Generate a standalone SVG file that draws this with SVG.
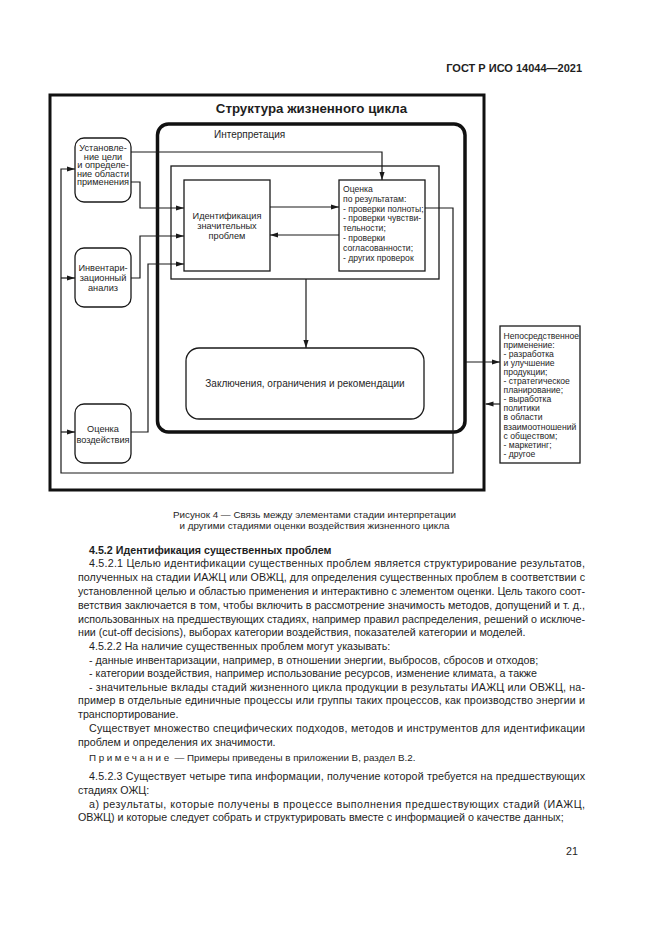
<svg xmlns="http://www.w3.org/2000/svg" width="661" height="935" viewBox="0 0 661 935">
<style>
.f{font-family:"Liberation Sans",Arial,sans-serif;fill:#1e1e1e}
.d{font-size:8.6px}
.l{font-size:9.2px}
.b{font-size:10.7px}
.ln{fill:none;stroke:#1a1a1a;stroke-width:1.2}
.box{fill:#fff;stroke:#1a1a1a;stroke-width:1.3}
</style>
<defs>
<marker id="ar" markerUnits="userSpaceOnUse" markerWidth="8" markerHeight="6" refX="8" refY="3" orient="auto">
<path d="M0,0.4 L8,3 L0,5.6 z" fill="#1a1a1a"/>
</marker>
</defs>
<rect width="661" height="935" fill="#fff"/>
<text class="f" x="582" y="72" font-size="11" font-weight="bold" text-anchor="end">ГОСТ Р ИСО 14044—2021</text>

<g id="frame">
<rect x="50" y="95" width="434" height="395" fill="none" stroke="#111" stroke-width="3"/>
<text class="f" x="311.5" y="113" font-size="13.3" font-weight="bold" text-anchor="middle">Структура жизненного цикла</text>
</g>
<g id="interp">
<rect x="157.5" y="124" width="307.5" height="308" rx="11" fill="none" stroke="#111" stroke-width="3.5"/>
<text class="f" x="214" y="138" font-size="10">Интерпретация</text>
</g>
<g id="inner">
<rect x="171" y="166" width="268" height="113" fill="none" stroke="#1a1a1a" stroke-width="1.3"/>
</g>
<g id="connectors">
<path class="ln" d="M131,152 H382 V180" marker-end="url(#ar)"/>
<path class="ln" d="M131,182 H140 V208 H184" marker-end="url(#ar)"/>
<path class="ln" d="M131,278 H140 V236 H184" marker-end="url(#ar)"/>
<path class="ln" d="M131,432 H148 V264 H184" marker-end="url(#ar)"/>
<path class="ln" d="M270,207 H339" marker-end="url(#ar)"/>
<path class="ln" d="M339,235 H270" marker-end="url(#ar)"/>
<path class="ln" d="M306,279 V348" marker-end="url(#ar)"/>
<path class="ln" d="M425,208 H453 V473 H61 V169 H75" marker-end="url(#ar)"/>
<path class="ln" d="M61,278 H75" marker-end="url(#ar)"/>
<path class="ln" d="M61,432 H75" marker-end="url(#ar)"/>
<path class="ln" d="M466,362 H500" marker-end="url(#ar)"/>
<path class="ln" d="M500,404 H485.5" marker-end="url(#ar)"/>
</g>
<g id="goal">
<rect class="box" x="75" y="138" width="56" height="64" rx="9"/>
<text class="f l" text-anchor="middle"><tspan x="103" y="151">Установле-</tspan><tspan x="103" y="159.6">ние цели</tspan><tspan x="103" y="168.2">и определе-</tspan><tspan x="103" y="176.8">ние области</tspan><tspan x="103" y="185.4">применения</tspan></text>
</g>
<g id="inventory">
<rect class="box" x="75" y="248" width="56" height="59" rx="9"/>
<text class="f l" text-anchor="middle"><tspan x="103" y="271">Инвентари-</tspan><tspan x="103" y="281">зационный</tspan><tspan x="103" y="291">анализ</tspan></text>
</g>
<g id="impact">
<rect class="box" x="75" y="404" width="56" height="59" rx="9"/>
<text class="f l" text-anchor="middle"><tspan x="103" y="432">Оценка</tspan><tspan x="103" y="443">воздействия</tspan></text>
</g>
<g id="ident">
<rect class="box" x="184" y="180" width="86" height="91"/>
<text class="f" font-size="9.2" text-anchor="middle"><tspan x="227" y="219">Идентификация</tspan><tspan x="227" y="229">значительных</tspan><tspan x="227" y="239">проблем</tspan></text>
</g>
<g id="evaluation">
<rect class="box" x="339" y="180" width="86" height="91"/>
<text class="f d"><tspan x="343" y="192">Оценка</tspan><tspan x="343" y="201.8">по результатам:</tspan><tspan x="343" y="211.6">- проверки полноты;</tspan><tspan x="343" y="221.4">- проверки чувстви-</tspan><tspan x="343" y="231.2">тельности;</tspan><tspan x="343" y="241">-  проверки</tspan><tspan x="343" y="250.8">согласованности;</tspan><tspan x="343" y="260.6">- других проверок</tspan></text>
</g>
<g id="conclusions">
<rect class="box" x="186" y="348" width="238" height="71" rx="13"/>
<text class="f" x="305" y="387" font-size="10" text-anchor="middle">Заключения, ограничения и рекомендации</text>
</g>
<g id="application">
<rect class="box" x="500" y="326" width="80" height="137"/>
<text class="f d"><tspan x="503.5" y="338.5">Непосредственное</tspan><tspan x="503.5" y="347.6">применение:</tspan><tspan x="503.5" y="356.7">- разработка</tspan><tspan x="503.5" y="365.8">и улучшение</tspan><tspan x="503.5" y="374.9">продукции;</tspan><tspan x="503.5" y="384">- стратегическое</tspan><tspan x="503.5" y="393.1">планирование;</tspan><tspan x="503.5" y="402.2">- выработка</tspan><tspan x="503.5" y="411.3">политики</tspan><tspan x="503.5" y="420.4">в области</tspan><tspan x="503.5" y="429.5">взаимоотношений</tspan><tspan x="503.5" y="438.6">с обществом;</tspan><tspan x="503.5" y="447.7">- маркетинг;</tspan><tspan x="503.5" y="456.8">- другое</tspan></text>
</g>

<g id="caption">
<text class="f" font-size="9.8" text-anchor="middle"><tspan x="314.5" y="518">Рисунок 4 — Связь между элементами стадии интерпретации</tspan><tspan x="314.5" y="529">и другими стадиями оценки воздействия жизненного цикла</tspan></text>
</g>

<g id="body" class="f b">
<text x="89" y="554" font-weight="bold">4.5.2 Идентификация существенных проблем</text>
<text x="89" y="567" textLength="496" lengthAdjust="spacing">4.5.2.1 Целью идентификации существенных проблем является структурирование результатов,</text>
<text x="78" y="581" textLength="507" lengthAdjust="spacing">полученных на стадии ИАЖЦ или ОВЖЦ, для определения существенных проблем в соответствии с</text>
<text x="78" y="595" textLength="507" lengthAdjust="spacing">установленной целью и областью применения и интерактивно с элементом оценки. Цель такого соот-</text>
<text x="78" y="609" textLength="507" lengthAdjust="spacing">ветствия заключается в том, чтобы включить в рассмотрение значимость методов, допущений и т. д.,</text>
<text x="78" y="623" textLength="507" lengthAdjust="spacing">использованных на предшествующих стадиях, например правил распределения, решений о исключе-</text>
<text x="78" y="636">нии (cut-off decisions), выборах категории воздействия, показателей категории и моделей.</text>
<text x="89" y="650">4.5.2.2 На наличие существенных проблем могут указывать:</text>
<text x="89" y="664">- данные инвентаризации, например, в отношении энергии, выбросов, сбросов и отходов;</text>
<text x="89" y="677">- категории воздействия, например использование ресурсов, изменение климата, а также</text>
<text x="89" y="691" textLength="496" lengthAdjust="spacing">- значительные вклады стадий жизненного цикла продукции в результаты ИАЖЦ или ОВЖЦ, на-</text>
<text x="78" y="704" textLength="507" lengthAdjust="spacing">пример в отдельные единичные процессы или группы таких процессов, как производство энергии и</text>
<text x="78" y="718">транспортирование.</text>
<text x="89" y="732" textLength="496" lengthAdjust="spacing">Существует множество специфических подходов, методов и инструментов для идентификации</text>
<text x="78" y="746">проблем и определения их значимости.</text>
<text x="89" y="761" font-size="9.8"><tspan letter-spacing="2.6">Примечание</tspan> — Примеры приведены в приложении В, раздел В.2.</text>
<text x="89" y="780" textLength="496" lengthAdjust="spacing">4.5.2.3 Существует четыре типа информации, получение которой требуется на предшествующих</text>
<text x="78" y="794">стадиях ОЖЦ:</text>
<text x="89" y="808" textLength="496" lengthAdjust="spacing">а) результаты, которые получены в процессе выполнения предшествующих стадий (ИАЖЦ,</text>
<text x="78" y="821">ОВЖЦ) и которые следует собрать и структурировать вместе с информацией о качестве данных;</text>
<text x="578" y="855" text-anchor="end">21</text>
</g>
</svg>
